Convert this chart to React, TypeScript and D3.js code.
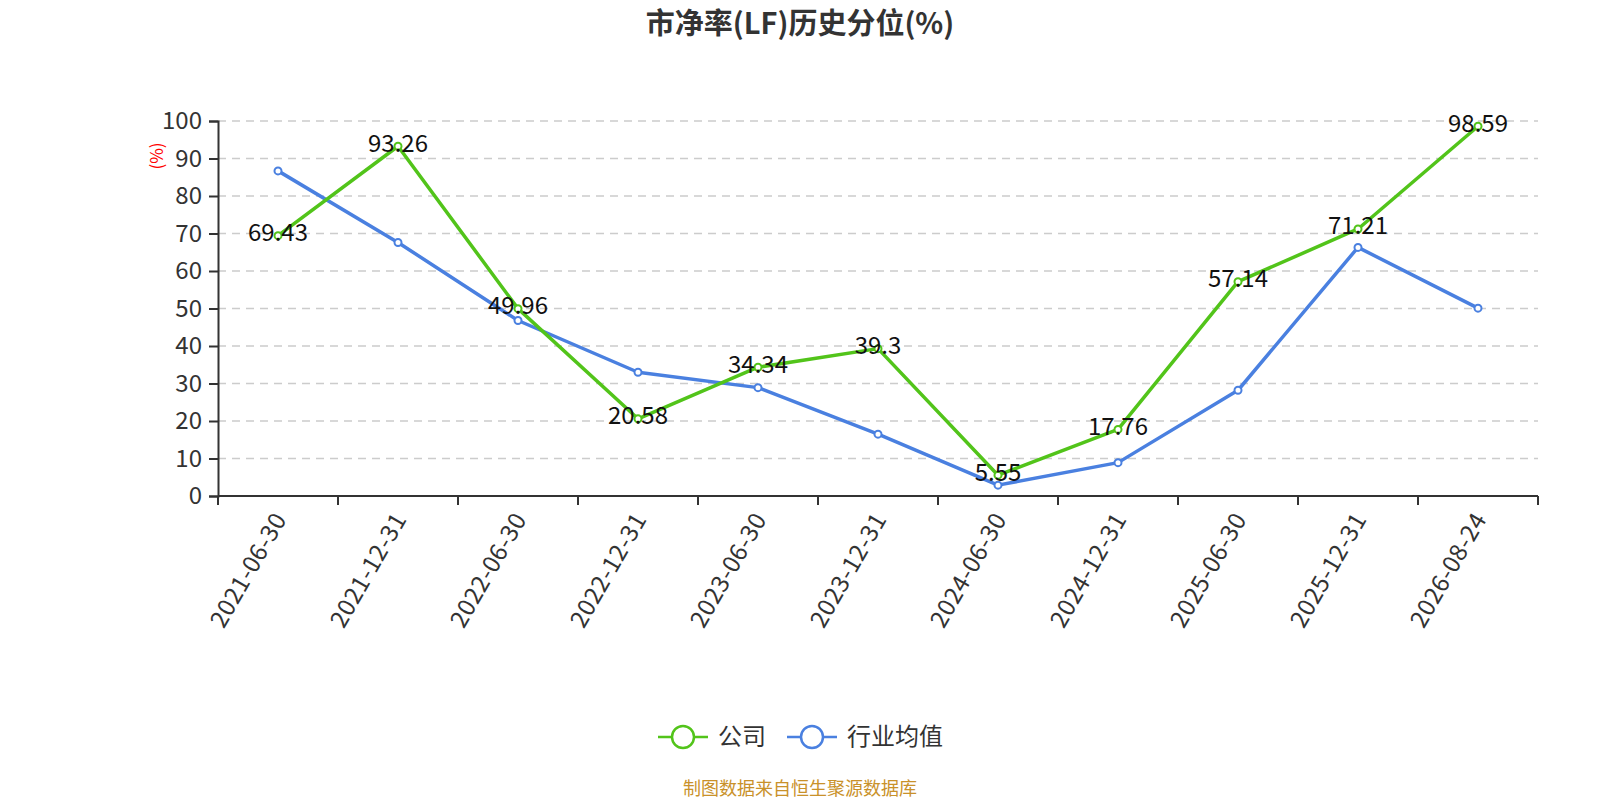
import { useEffect, useRef } from 'react';
import * as d3 from 'd3';

const categories = [
  '2021-06-30', '2021-12-31', '2022-06-30', '2022-12-31', '2023-06-30', '2023-12-31',
  '2024-06-30', '2024-12-31', '2025-06-30', '2025-12-31', '2026-08-24',
];
const companyValues = [69.43, 93.26, 49.96, 20.58, 34.34, 39.3, 5.55, 17.76, 57.14, 71.21, 98.59];
const industryValues = [86.7, 67.6, 46.8, 33.0, 28.9, 16.5, 2.9, 8.9, 28.2, 66.3, 50.1];
const yTicks = [0, 10, 20, 30, 40, 50, 60, 70, 80, 90, 100];

const seriesNames = ['公司', '行业均值'];
const GREEN = '#52c41a';
const BLUE = '#4a80e0';
const FONT = '"Noto Sans CJK SC", "Noto Sans", sans-serif';

const W = 1600;
const H = 800;
const margin = { left: 218, right: 62, top: 121, bottom: 304 };

export default function App() {
  const svgRef = useRef<SVGSVGElement>(null);

  useEffect(() => {
    document.body.style.margin = '0';
    document.body.style.overflow = 'hidden';
    if (!svgRef.current) return;
    const svg = d3.select(svgRef.current);
    svg.selectAll('*').remove();

    const x = d3.scaleBand()
      .domain(categories)
      .range([margin.left, W - margin.right]);
    const y = d3.scaleLinear()
      .domain([0, 100])
      .range([H - margin.bottom, margin.top]);
    const cx = (c: string) => (x(c) ?? 0) + x.bandwidth() / 2;

    // title
    svg.append('text')
      .attr('x', W / 2).attr('y', 34)
      .attr('text-anchor', 'middle')
      .attr('font-size', 29).attr('font-weight', 'bold')
      .attr('fill', '#333').attr('font-family', FONT)
      .text('市净率(LF)历史分位(%)');

    // grid lines
    svg.append('g')
      .selectAll('line')
      .data(yTicks.filter(t => t > 0))
      .join('line')
      .attr('x1', margin.left).attr('x2', W - margin.right)
      .attr('y1', d => y(d)).attr('y2', d => y(d))
      .attr('stroke', '#ccc').attr('stroke-width', 1.5)
      .attr('stroke-dasharray', '8,6');

    // y axis
    const yAxis = svg.append('g')
      .attr('transform', `translate(${margin.left},0)`)
      .call(d3.axisLeft(y).tickValues(yTicks).tickSize(9).tickPadding(7));
    yAxis.select('.domain').attr('stroke', '#333').attr('stroke-width', 2);
    yAxis.selectAll('.tick line').attr('stroke', '#333').attr('stroke-width', 2);
    yAxis.selectAll('.tick text')
      .attr('font-size', 24).attr('fill', '#333').attr('font-family', FONT);

    // y axis name
    svg.append('text')
      .attr('transform', 'translate(157,156) rotate(-90)')
      .attr('text-anchor', 'middle')
      .attr('dy', '0.35em')
      .attr('font-size', 17).attr('fill', 'red').attr('font-family', FONT)
      .text('(%)');

    // x axis
    const x0 = H - margin.bottom;
    const xg = svg.append('g');
    xg.append('line')
      .attr('x1', margin.left).attr('x2', W - margin.right)
      .attr('y1', x0).attr('y2', x0)
      .attr('stroke', '#333').attr('stroke-width', 2);
    const boundaries = [...categories.map(c => x(c) ?? 0), W - margin.right];
    xg.selectAll('line.tick')
      .data(boundaries)
      .join('line')
      .attr('class', 'tick')
      .attr('x1', d => d).attr('x2', d => d)
      .attr('y1', x0).attr('y2', x0 + 9)
      .attr('stroke', '#333').attr('stroke-width', 2);
    xg.selectAll('text')
      .data(categories)
      .join('text')
      .attr('transform', d => `translate(${cx(d) + 2},${x0 + 19}) rotate(-60)`)
      .attr('text-anchor', 'end')
      .attr('dy', '0.35em')
      .attr('font-size', 24).attr('letter-spacing', 0.4)
      .attr('fill', '#333').attr('font-family', FONT)
      .text(d => d);

    const line = d3.line<number>()
      .x((_, i) => cx(categories[i]))
      .y(d => y(d));

    const drawSeries = (vals: number[], color: string, labels: boolean) => {
      const g = svg.append('g');
      g.append('path')
        .datum(vals)
        .attr('d', line)
        .attr('fill', 'none')
        .attr('stroke', color)
        .attr('stroke-width', 3.5)
        .attr('stroke-linejoin', 'round');
      g.selectAll('circle')
        .data(vals)
        .join('circle')
        .attr('cx', (_, i) => cx(categories[i]))
        .attr('cy', d => y(d))
        .attr('r', 3.5)
        .attr('fill', '#fff')
        .attr('stroke', color)
        .attr('stroke-width', 2);
      if (labels) {
        g.selectAll('text')
          .data(vals)
          .join('text')
          .attr('x', (_, i) => cx(categories[i]))
          .attr('y', d => y(d) - 3)
          .attr('dy', '0.35em')
          .attr('text-anchor', 'middle')
          .attr('font-size', 24).attr('fill', '#111').attr('font-family', FONT)
          .text(d => String(d));
      }
    };

    drawSeries(industryValues, BLUE, false);
    drawSeries(companyValues, GREEN, true);

    // legend
    const legendItems = [
      { name: seriesNames[0], color: GREEN, x: 658 },
      { name: seriesNames[1], color: BLUE, x: 787 },
    ];
    const lg = svg.append('g');
    legendItems.forEach(item => {
      const ly = 737;
      lg.append('line')
        .attr('x1', item.x).attr('x2', item.x + 50)
        .attr('y1', ly).attr('y2', ly)
        .attr('stroke', item.color).attr('stroke-width', 2.5);
      lg.append('circle')
        .attr('cx', item.x + 25).attr('cy', ly).attr('r', 11)
        .attr('fill', '#fff').attr('stroke', item.color).attr('stroke-width', 2.5);
      lg.append('text')
        .attr('x', item.x + 60).attr('y', ly)
        .attr('dy', '0.35em')
        .attr('font-size', 24).attr('fill', '#333').attr('font-family', FONT)
        .text(item.name);
    });

    // source
    svg.append('text')
      .attr('x', W / 2).attr('y', 795)
      .attr('text-anchor', 'middle')
      .attr('font-size', 18).attr('fill', '#c9912a').attr('font-family', FONT)
      .text('制图数据来自恒生聚源数据库');
  }, []);

  return (
    <svg
      ref={svgRef}
      width={W}
      height={H}
      style={{ display: 'block', background: '#fff' }}
    />
  );
}
